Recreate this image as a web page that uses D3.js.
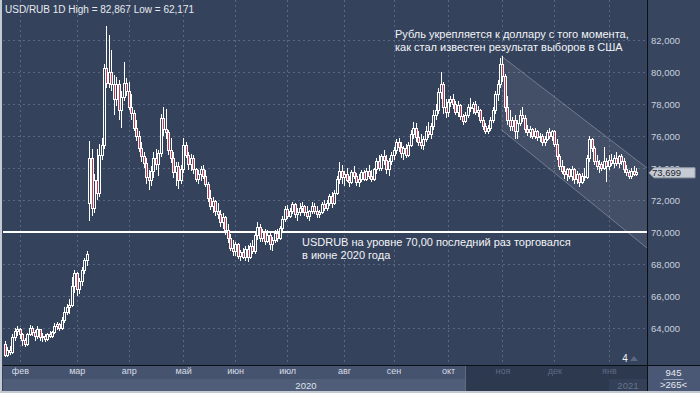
<!DOCTYPE html>
<html>
<head>
<meta charset="utf-8">
<script src="https://cdn.jsdelivr.net/npm/d3@7"></script>
<style>
  body { margin: 0; background: #35425c; }
  svg { display: block; font-family: "Liberation Sans", Arial, sans-serif; }
</style>
</head>
<body>
<div id="result"></div>
<script>
// daily bars, jan 24 2020 .. jan 15 2021 (open = previous close unless listed in gapOpens)
const closes = [
  62.3, 62.6, 62.5, 63.4, 63.8, 63.9,
  63.6, 63.2, 63.0, 63.6, 64.0, 63.7, 63.5, 63.9, 63.4, 63.5, 63.3, 63.6, 63.5, 63.7, 64.1, 64.2, 64.0, 64.5, 65.0, 65.3,
  65.4, 66.6, 67.4, 66.4, 66.9, 67.6, 68.2, 68.6, 74.6, 71.5, 73.2, 72.4, 74.8, 75.4, 80.2, 79.3, 80.0, 79.2, 78.3, 79.2, 77.6, 78.4,
  79.3, 78.8, 77.8, 77.4, 76.5, 76.0, 75.2, 74.7, 74.3, 73.4, 73.2, 73.8, 74.6, 74.2, 74.9, 77.1, 76.4, 76.2, 75.1, 74.6, 73.7, 74.1,
  73.2, 73.9, 75.4, 74.8, 74.2, 74.6, 73.9, 73.3, 73.6, 73.9, 73.5, 73.0, 72.1, 71.6, 71.9, 71.3, 71.1, 70.6, 70.9, 70.1, 69.6,
  69.0, 68.8, 69.2, 68.5, 68.7, 68.4, 68.9, 68.4, 69.1, 68.8, 69.8, 70.3, 69.6, 70.0, 69.4, 69.8, 69.2, 69.5, 69.9, 69.6, 70.2, 70.8,
  71.4, 71.0, 71.3, 71.7, 71.1, 71.2, 71.5, 71.6, 71.2, 71.0, 71.3, 71.6, 71.3, 71.1, 71.2, 71.7, 71.5, 71.8, 72.2, 71.8, 72.4, 73.3, 73.8,
  73.4, 73.6, 73.2, 73.1, 73.7, 73.5, 73.1, 73.3, 73.7, 73.3, 73.8, 73.5, 73.3, 73.9, 74.4, 74.0, 74.7, 74.5, 73.9, 74.4, 74.8,
  75.1, 75.6, 75.3, 74.9, 75.2, 74.8, 75.4, 76.1, 76.5, 75.9, 75.6, 75.4, 75.8, 76.3, 76.1, 76.6, 77.3, 77.6, 78.7, 79.2, 77.8, 77.5,
  78.1, 78.3, 78.0, 77.5, 77.9, 77.2, 76.9, 77.3, 77.8, 77.7, 78.0, 77.5, 77.6, 77.0, 76.6, 76.3, 76.5, 77.0, 77.6, 78.6, 79.2, 80.5,
  79.7, 77.8, 77.0, 76.6, 77.0, 76.3, 76.8, 77.3, 77.1, 76.4, 76.2, 76.4, 76.0, 76.3, 75.9, 76.0, 75.6, 75.8, 76.2, 76.0, 76.3,
  75.5, 74.7, 74.1, 73.8, 73.6, 73.9, 73.5, 73.9, 73.3, 73.6, 73.1, 73.5, 73.4, 74.6, 75.8, 75.2, 74.4, 74.1, 74.2, 74.0, 74.4, 74.1, 74.5,
  74.3, 74.6, 74.3, 74.7, 74.4, 73.9, 73.7, 73.5, 73.8, 73.6, 73.699
];
const highs = [
  63.2, 62.8, 62.9, 63.6, 64.0, 64.1,
  64.0, 63.7, 63.4, 63.7, 64.2, 64.1, 63.9, 64.1, 63.9, 63.7, 63.6, 63.7, 63.8, 63.8, 64.3, 64.4, 64.3, 64.7, 65.3, 65.5,
  65.8, 67.2, 67.6, 67.5, 67.1, 67.8, 68.4, 68.8, 75.7, 75.2, 73.6, 75.2, 75.5, 75.9, 80.5, 82.867, 82.3, 81.4, 79.8, 79.7, 79.5, 78.8,
  80.6, 79.6, 79.4, 78.6, 77.6, 77.0, 76.3, 75.6, 75.0, 74.6, 73.9, 74.1, 75.0, 75.2, 75.1, 77.4, 77.8, 77.7, 76.4, 75.9, 75.0, 74.4,
  74.4, 74.2, 75.9, 75.6, 75.0, 74.9, 74.8, 74.0, 73.9, 74.1, 74.2, 73.9, 73.1, 72.6, 72.2, 72.0, 71.8, 71.4, 71.2, 71.0, 70.5,
  69.9, 69.5, 69.4, 69.3, 68.9, 69.0, 69.1, 69.2, 69.3, 69.5, 70.0, 70.6, 70.5, 70.2, 70.2, 70.1, 70.0, 69.7, 70.1, 70.2, 70.4, 71.0,
  71.6, 71.7, 71.5, 71.9, 71.8, 71.5, 71.8, 71.9, 71.7, 71.6, 71.4, 71.9, 71.8, 71.6, 71.4, 71.9, 72.0, 72.0, 72.4, 72.5, 72.6, 73.5, 74.4,
  74.2, 73.8, 74.0, 73.5, 73.9, 74.1, 73.7, 73.6, 73.9, 73.9, 74.0, 74.2, 73.9, 74.0, 74.6, 74.8, 74.9, 75.1, 74.8, 74.6, 75.0,
  75.3, 75.8, 75.9, 75.6, 75.4, 75.5, 75.6, 76.4, 76.9, 76.8, 76.3, 76.1, 76.0, 76.6, 76.9, 76.8, 77.6, 78.0, 79.0, 80.0, 79.4, 78.3,
  78.3, 78.5, 78.6, 78.2, 78.2, 78.0, 77.4, 77.5, 78.0, 78.4, 78.1, 78.2, 77.9, 77.7, 77.2, 76.8, 76.7, 77.2, 77.8, 78.8, 79.5, 80.9,
  81.0, 79.9, 78.5, 77.6, 77.2, 77.3, 77.0, 77.6, 77.8, 77.3, 76.7, 76.6, 76.5, 76.5, 76.4, 76.2, 76.1, 76.0, 76.4, 76.5, 76.4,
  76.4, 75.8, 74.9, 74.5, 74.1, 74.0, 74.0, 74.1, 74.0, 73.8, 73.7, 73.7, 74.0, 74.8, 76.0, 75.9, 75.4, 74.8, 74.5, 74.4, 75.3, 74.6, 74.8,
  74.9, 74.8, 75.0, 74.8, 74.9, 74.6, 74.2, 73.9, 74.0, 74.1, 74.0
];
const lows = [
  62.171, 62.2, 62.3, 62.4, 63.2, 63.5,
  63.3, 62.9, 62.8, 62.9, 63.5, 63.5, 63.2, 63.3, 63.2, 63.1, 63.1, 63.2, 63.4, 63.4, 63.6, 63.9, 63.8, 63.9, 64.3, 64.8,
  64.9, 65.3, 66.2, 66.0, 66.1, 66.6, 67.4, 67.9, 70.7, 71.0, 71.2, 72.0, 72.2, 74.5, 75.2, 79.0, 79.0, 78.8, 77.3, 77.9, 77.0, 76.5,
  78.2, 78.5, 77.6, 77.0, 76.3, 75.7, 75.0, 74.4, 74.0, 73.0, 72.6, 72.9, 73.4, 73.9, 73.5, 74.7, 76.0, 75.8, 74.8, 74.3, 73.4, 72.9,
  72.7, 73.0, 73.7, 74.6, 73.9, 73.8, 73.6, 73.1, 73.0, 73.2, 73.3, 72.8, 71.9, 71.4, 71.2, 71.0, 70.8, 70.3, 70.2, 69.8, 69.3,
  68.8, 68.5, 68.5, 68.3, 68.2, 68.3, 68.2, 68.1, 68.3, 68.6, 68.6, 69.5, 69.4, 69.4, 69.2, 69.3, 68.9, 68.8, 69.3, 69.4, 69.5, 70.0,
  70.6, 70.8, 70.9, 71.1, 70.9, 70.7, 71.0, 71.2, 71.0, 70.8, 70.7, 71.1, 71.1, 70.9, 70.9, 71.1, 71.3, 71.3, 71.6, 71.5, 71.7, 72.3, 73.0,
  73.0, 72.9, 73.1, 72.8, 73.0, 73.3, 72.9, 72.8, 73.1, 73.2, 73.2, 73.3, 73.1, 73.2, 73.6, 73.8, 73.8, 74.2, 73.6, 73.5, 74.2,
  74.5, 74.9, 75.0, 74.6, 74.5, 74.6, 74.7, 75.3, 75.8, 75.6, 75.4, 75.2, 75.1, 75.6, 75.9, 75.8, 76.4, 77.0, 77.4, 78.3, 77.4, 77.1,
  77.2, 77.8, 77.7, 77.3, 77.2, 77.0, 76.7, 76.8, 77.1, 77.5, 77.4, 77.3, 77.2, 76.8, 76.4, 76.1, 76.1, 76.3, 76.8, 77.4, 78.2, 79.0,
  79.4, 77.5, 76.7, 76.3, 76.3, 75.8, 75.8, 76.6, 76.9, 76.2, 76.0, 75.9, 75.8, 75.8, 75.7, 75.6, 75.4, 75.4, 75.7, 75.8, 75.7,
  75.3, 74.5, 73.9, 73.6, 73.3, 73.2, 73.3, 73.2, 73.0, 73.0, 72.8, 73.0, 73.2, 73.3, 74.4, 75.0, 74.2, 73.9, 73.7, 73.8, 73.9, 73.1, 73.9,
  74.1, 74.0, 74.1, 74.0, 74.2, 73.7, 73.5, 73.3, 73.3, 73.5, 73.5
];
const gapOpens = { 0: 63.0, 34: 71.8 };

const monthLabels = ['фев', 'мар', 'апр', 'май', 'июн', 'июл', 'авг', 'сен', 'окт', 'ноя', 'дек', 'янв'];
const monthTicks = [6, 29, 50, 72, 93, 114, 137, 157, 179, 201, 222, 244];   // bar index of each month line
const yearLabels = ['2020', '2021'];
const priceTicks = [64, 66, 68, 70, 72, 74, 76, 78, 80, 82];
const refLevel = 70;
// falling channel since the US election, in [bar index, price]
const channelTop = [[200.5, 81.0], [259.4, 74.0]];
const channelBottom = [[200.5, 76.4], [259.4, 69.0]];
const noteElection = ['Рубль укрепляется к доллару с того момента,', 'как стал известен результат выборов в США'];
const noteLevel = ['USDRUB на уровне 70,00 последний раз торговался', 'в июне 2020 года'];
const shadedFrom = 186;   // scrolled-out part of the time axis

const W = 700, H = 393;
const plot = { left: 3, right: 647, top: 0, bottom: 365 };
const ruFormat = d3.formatLocale({ decimal: ',', thousands: ' ', grouping: [3], currency: ['', ''] }).format('.3f');

const candles = closes.map(function(c, i) {
  return {
    i: i,
    open: gapOpens[i] != null ? gapOpens[i] : closes[i - 1],
    high: highs[i],
    low: lows[i],
    close: c
  };
});

const x = d3.scaleLinear().domain([-0.8, 259.4]).range([plot.left, plot.right]);
const y = d3.scaleLinear().domain([61.6875, 84.5]).range([plot.bottom, plot.top]);

const svg = d3.select('#result').append('svg')
  .attr('width', W)
  .attr('height', H);

// backgrounds
svg.append('rect').attr('width', W).attr('height', H).attr('fill', '#35425c');
svg.append('rect').attr('x', plot.right).attr('y', 0).attr('width', W - plot.right).attr('height', plot.bottom).attr('fill', '#38455f');
svg.append('rect').attr('x', plot.left).attr('y', plot.bottom).attr('width', plot.right - plot.left).attr('height', 14).attr('fill', '#45536f');
svg.append('rect').attr('x', plot.left).attr('y', plot.bottom + 14).attr('width', plot.right - plot.left).attr('height', 12).attr('fill', '#4f5d79');
svg.append('rect').attr('x', x(shadedFrom)).attr('y', plot.bottom).attr('width', plot.right - x(shadedFrom)).attr('height', 26).attr('fill', '#2d394f');
svg.append('rect').attr('x', x(monthTicks[11])).attr('y', plot.bottom + 14).attr('width', plot.right - x(monthTicks[11])).attr('height', 12).attr('fill', '#334058');
svg.append('line')
  .attr('x1', Math.round(x(shadedFrom)) + 0.5).attr('x2', Math.round(x(shadedFrom)) + 0.5)
  .attr('y1', plot.bottom).attr('y2', plot.bottom + 26)
  .attr('stroke', '#5d6a82');
svg.append('rect').attr('x', plot.right).attr('y', plot.bottom).attr('width', W - plot.right).attr('height', 26).attr('fill', '#4a5876');

// grid
const grid = svg.append('g').attr('stroke', '#5b6884').attr('stroke-dasharray', '2,3').attr('shape-rendering', 'crispEdges');
grid.selectAll('.gy').data(priceTicks.filter(function(d) { return d !== refLevel; })).enter().append('line')
  .attr('x1', plot.left).attr('x2', plot.right)
  .attr('y1', function(d) { return Math.round(y(d)) + 0.5; })
  .attr('y2', function(d) { return Math.round(y(d)) + 0.5; });
grid.selectAll('.gx').data(monthTicks).enter().append('line')
  .attr('y1', plot.top).attr('y2', plot.bottom)
  .attr('x1', function(d) { return Math.round(x(d)) + 0.5; })
  .attr('x2', function(d) { return Math.round(x(d)) + 0.5; });

// channel
const chanPoly = channelTop.concat(channelBottom.slice().reverse());
svg.append('path')
  .attr('d', d3.line().x(function(d) { return x(d[0]); }).y(function(d) { return y(d[1]); })(chanPoly) + 'Z')
  .attr('fill', 'rgba(255,255,255,0.07)');
[channelTop, channelBottom].forEach(function(l) {
  svg.append('line')
    .attr('x1', x(l[0][0])).attr('y1', y(l[0][1]))
    .attr('x2', x(l[1][0])).attr('y2', y(l[1][1]))
    .attr('stroke', 'rgba(215,222,235,0.35)').attr('stroke-width', 1);
});

// 70 level
svg.append('line')
  .attr('x1', plot.left).attr('x2', plot.right)
  .attr('y1', y(refLevel)).attr('y2', y(refLevel))
  .attr('stroke', '#ffffff').attr('stroke-width', 2).attr('shape-rendering', 'crispEdges');

// candles
const cg = svg.append('g').attr('shape-rendering', 'crispEdges');
const bars = cg.selectAll('g').data(candles).enter().append('g');
bars.append('line')
  .attr('x1', function(d) { return Math.round(x(d.i)) + 0.5; })
  .attr('x2', function(d) { return Math.round(x(d.i)) + 0.5; })
  .attr('y1', function(d) { return y(d.high); })
  .attr('y2', function(d) { return y(d.low); })
  .attr('stroke', '#ffffff');
bars.append('rect')
  .attr('x', function(d) { return Math.round(x(d.i)) - 0.5; })
  .attr('width', 2)
  .attr('y', function(d) { return y(Math.max(d.open, d.close)); })
  .attr('height', function(d) { return Math.max(1, Math.abs(y(d.open) - y(d.close))); })
  .attr('fill', function(d) { return d.close < d.open ? '#c23a52' : '#35425c'; })
  .attr('stroke', '#ffffff');

// right axis
const ya = svg.append('g')
  .attr('transform', 'translate(' + plot.right + ',0)')
  .call(d3.axisRight(y).tickValues(priceTicks).tickSize(0).tickPadding(4).tickFormat(ruFormat));
ya.select('.domain').remove();
ya.selectAll('text').attr('fill', '#c9d1de').attr('font-size', '9.5px').attr('font-family', '"Liberation Sans", Arial, sans-serif');

// last price tag
const last = candles[candles.length - 1];
const ly = y(last.close);
svg.append('path')
  .attr('d', 'M' + (plot.right + 2) + ',' + ly + 'l5,-5h41v10h-41z')
  .attr('fill', '#c7ccd4').attr('stroke', '#9aa2ae');
svg.append('text')
  .attr('x', plot.right + 5).attr('y', ly + 3.5)
  .attr('font-size', '9.5px').attr('fill', '#1d2330')
  .text(ruFormat(last.close));

// bottom axis
const xa = svg.append('g')
  .attr('transform', 'translate(0,' + plot.bottom + ')')
  .call(d3.axisBottom(x).tickValues(monthTicks).tickSize(0).tickPadding(3)
    .tickFormat(function(d, k) { return monthLabels[k]; }));
xa.select('.domain').remove();
xa.selectAll('text')
  .attr('font-size', '9px')
  .attr('font-family', '"Liberation Sans", Arial, sans-serif')
  .attr('fill', function(d) { return d >= shadedFrom ? '#5e6b84' : '#d8dde6'; });

const yearSpans = [[plot.left, x(monthTicks[11])], [x(monthTicks[11]), plot.right]];
svg.selectAll('.year').data(yearLabels).enter().append('text')
  .attr('x', function(d, k) { return (yearSpans[k][0] + yearSpans[k][1]) / 2; })
  .attr('y', plot.bottom + 24)
  .attr('text-anchor', 'middle')
  .attr('font-size', '9.5px')
  .attr('fill', function(d, k) { return k === 0 ? '#dfe3ea' : '#66738b'; })
  .text(function(d) { return d; });

// frame lines
svg.append('line').attr('x1', plot.left).attr('x2', W).attr('y1', plot.bottom + 0.5).attr('y2', plot.bottom + 0.5).attr('stroke', '#0b0f16');
svg.append('line').attr('x1', plot.right + 0.5).attr('x2', plot.right + 0.5).attr('y1', 0).attr('y2', H).attr('stroke', '#0b0f16');
svg.append('rect').attr('x', 0).attr('y', 0).attr('width', 2).attr('height', H).attr('fill', '#c3cad3');
svg.append('rect').attr('x', 0).attr('y', H - 2).attr('width', W).attr('height', 2).attr('fill', '#c3cad3');

// counter box
const bx = (plot.right + W) / 2;
svg.append('text').attr('x', bx).attr('y', plot.bottom + 11).attr('text-anchor', 'middle')
  .attr('font-size', '9.5px').attr('fill', '#e6eaf0').text('945');
svg.append('line').attr('x1', bx - 10).attr('x2', bx + 10).attr('y1', plot.bottom + 14.5).attr('y2', plot.bottom + 14.5)
  .attr('stroke', '#9aa6ba');
svg.append('text').attr('x', bx).attr('y', plot.bottom + 23).attr('text-anchor', 'middle')
  .attr('font-size', '9.5px').attr('fill', '#e6eaf0').text('>265<');

// title
svg.append('text')
  .attr('x', 5).attr('y', 13)
  .attr('font-size', '10px').attr('fill', '#e6eaf0')
  .text('USD/RUB 1D High = ' + ruFormat(d3.max(highs)) + ' Low = ' + ruFormat(d3.min(lows)));

// notes
function note(lines, xPos, yPos) {
  svg.append('text')
    .attr('x', xPos).attr('y', yPos)
    .attr('font-size', '11px').attr('fill', '#f2f4f7')
    .selectAll('tspan').data(lines).enter().append('tspan')
    .attr('x', xPos)
    .attr('dy', function(d, k) { return k === 0 ? 0 : 13; })
    .text(function(d) { return d; });
}
note(noteElection, 395, 38);
note(noteLevel, 302, 246);

// marker count near the bottom right
svg.append('text').attr('x', 625).attr('y', 362).attr('text-anchor', 'middle')
  .attr('font-size', '10px').attr('fill', '#f0f2f5').text('4');
svg.append('path').attr('d', 'M630,361l4,-5l4,5z').attr('fill', '#5b6884');
</script>
</body>
</html>
